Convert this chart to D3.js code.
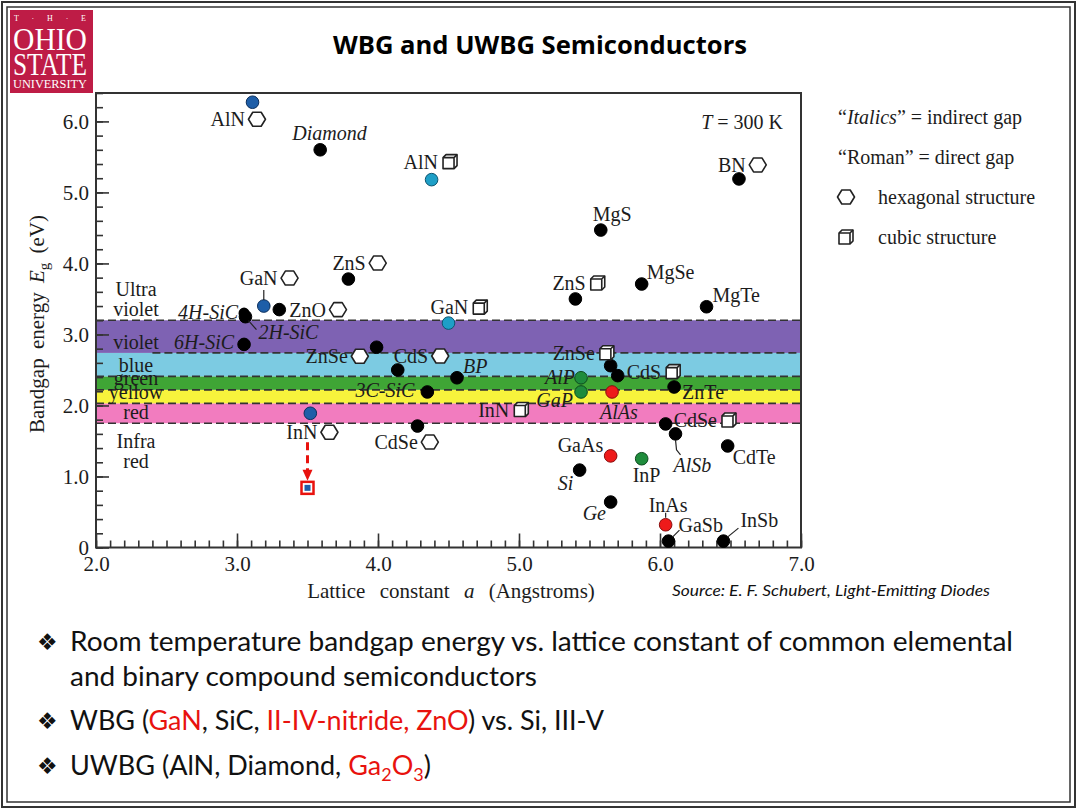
<!DOCTYPE html>
<html>
<head>
<meta charset="utf-8">
<script src="https://d3js.org/d3.v7.min.js"></script>
<style>
body{margin:0;background:#fff;}
</style>
</head>
<body>
<script>
// ---- data ----
const materials = ['AlN','Diamond','AlN','BN','MgS','ZnS','GaN','ZnO','4H-SiC','2H-SiC','6H-SiC','GaN','ZnS','MgSe','MgTe',
                   'ZnSe','CdS','BP','3C-SiC','InN','CdSe','ZnSe','CdS','AlP','GaP','AlAs','ZnTe','InN','CdSe','AlSb',
                   'CdTe','GaAs','InP','Si','Ge','InAs','GaSb','InSb'];
const latticeA = [3.11,3.59,4.38,6.56,5.58,3.79,3.19,3.30,3.05,3.06,3.05,4.50,5.40,5.87,6.33,
                  3.99,4.14,4.56,4.35,3.52,4.28,5.65,5.70,5.44,5.44,5.66,6.10,4.98,6.04,6.11,
                  6.48,5.65,5.87,5.43,5.65,6.04,6.06,6.45];
const bandgapEV = [6.27,5.60,5.18,5.19,4.47,3.78,3.40,3.35,3.30,3.25,2.86,3.16,3.50,3.71,3.39,
                   2.82,2.50,2.39,2.19,1.89,1.71,2.56,2.42,2.39,2.19,2.19,2.26,1.90,1.74,1.60,
                   1.43,1.29,1.25,1.09,0.64,0.32,0.09,0.09];
const gapKind = ['d','i','d','d','d','d','d','d','i','i','i','d','d','d','d',
                 'd','d','i','i','d','d','d','d','i','i','i','d','d','d','i',
                 'd','d','d','i','i','d','d','d'];
const crystal = ['hex','','cub','hex','','hex','hex','hex','','','','cub','cub','','',
                 'hex','hex','','','hex','hex','cub','cub','','','','','cub','cub','',
                 '','','','','','','',''];
const dotGroup = ['nitride','k','nitrideCub','k','k','k','nitride','k','ring','k','k','nitrideCub','k','k','k',
                  'k','k','k','k','nitride','k','k','k','phos','phos','ars','k','none','k','k',
                  'k','ars','phos','k','k','ars','k','k'];
const inNRevisedA = 3.50, inNRevisedEV = 0.84;

const bandEdges = [1.75, 2.03, 2.22, 2.41, 2.74, 3.20];
const bandNames = ['red','yellow','green','blue','violet'];
const xTicks = [2,3,4,5,6,7];
const yTicks = [0,1,2,3,4,5,6];
const sideLabels = [['Ultra',3.62],['violet',3.34],['violet',2.88],['blue',2.55],['green',2.37],['yellow',2.18],['red',1.89],['Infra',1.48],['red',1.20]];

// ---- layout / style ----
const labelLayout = [
  [-42,24],[-28,-10],[-28,-11],[-21,-7],[-8,-9],[-16,-9],[-24,-21,'start',[[0,-6],[0,-16]]],[10,7],[-6,6,'end'],[13,22,'start',[[3,4],[11,13]]],
  [-10,5,'end'],[-18,-9],[-23,-9],[5,-5],[6,-5],[-71,16],[-4,-7],[6,-5],[-13,5,'end'],[-24,26],
  [-43,23],[-58,-6],[9,3],[-6,6,'end'],[-8,15,'end'],[-12,27],[8,12],[-38,4],[8,3],[-2,38,'start',[[0,6],[1,16],[5,21]]],
  [5,18],[-53,-4],[-9,23],[-22,20],[-28,18],[-17,-13,'start',[[0,-7],[0,-12]]],[10,-9,'start',[[4,-4],[11,-11]]],[17,-14,'start',[[4,-4],[15,-13]]]
];
const bandColors = {red:'#f27cbf', yellow:'#f8f33c', green:'#3fa535', blue:'#7ccbe2', violet:'#7e62b3'};
const dotColors = {k:['#000','#000'], nitride:['#1e5ea8','#0c2f5c'], nitrideCub:['#1e9fc7','#0d5570'],
                   phos:['#1f8c3c','#0d4a1e'], ars:['#ee1a1a','#8a0c0c'], ring:['#000','#fff']};
const serif = 'Liberation Serif';
const ink = '#1c1c1c';
const red = '#e8120e';

const svg = d3.select('body')
              .append('svg')
              .attr('width',1080)
              .attr('height',810)
              .style('font-family',serif);

// slide border
svg.append('rect').attr('x',2).attr('y',2).attr('width',1073).attr('height',805)
   .attr('fill','none').attr('stroke','#333').attr('stroke-width',2);
svg.append('rect').attr('x',7).attr('y',7).attr('width',1063).attr('height',795)
   .attr('fill','none').attr('stroke','#333').attr('stroke-width',1.5);

// logo
const logo = svg.append('g').attr('fill','#fff');
logo.append('rect').attr('x',10).attr('y',10).attr('width',83).attr('height',83).attr('fill','#be1c46');
logo.append('text').attr('x',14).attr('y',21).attr('textLength',72).attr('lengthAdjust','spacing')
    .style('font-size','8px').text('T · H · E');
logo.append('text').attr('x',13).attr('y',50).attr('textLength',74).attr('lengthAdjust','spacingAndGlyphs')
    .style('font-size','32px').text('OHIO');
logo.append('text').attr('x',13).attr('y',75).attr('textLength',74).attr('lengthAdjust','spacingAndGlyphs')
    .style('font-size','31px').text('STATE');
logo.append('text').attr('x',13).attr('y',88).attr('textLength',74).attr('lengthAdjust','spacingAndGlyphs')
    .style('font-size','12px').text('UNIVERSITY');

// title
svg.append('text').attr('x',540).attr('y',54).attr('text-anchor','middle')
   .attr('textLength',414).attr('lengthAdjust','spacingAndGlyphs')
   .style('font-family','Open Sans').style('font-weight',700).style('font-size','25px')
   .text('WBG and UWBG Semiconductors');

// scales
const x = d3.scaleLinear().domain([2,7]).range([96,801]);
const y = d3.scaleLinear().domain([0,6.4]).range([547.5,93]);

// colour bands
const bands = svg.append('g');
bands.selectAll('rect')
     .data(bandNames)
     .join('rect')
     .attr('x',x(2)).attr('width',x(7)-x(2))
     .attr('y',(d,i) => y(bandEdges[i+1]))
     .attr('height',(d,i) => y(bandEdges[i]) - y(bandEdges[i+1]))
     .attr('fill',d => bandColors[d]);
bands.selectAll('line')
     .data(bandEdges)
     .join('line')
     .attr('x1',(d,i) => i===4 ? x(2.4) : x(2)).attr('x2',x(7))
     .attr('y1',d => y(d)).attr('y2',d => y(d))
     .attr('stroke','#333').attr('stroke-width',1.6).attr('stroke-dasharray','8,4');

// side labels for the spectrum
svg.append('g').selectAll('text')
   .data(sideLabels)
   .join('text')
   .attr('x',136).attr('y',d => y(d[1]) + 6)
   .attr('text-anchor','middle').style('font-size','20px').attr('fill',ink)
   .text(d => d[0]);

// axes
const fmt = d => d === 0 ? '0' : d.toFixed(1);
const xMinor = svg.append('g').attr('transform',`translate(0,${y(0)})`)
   .call(d3.axisBottom(x).tickValues(d3.range(20,71).map(v => v/10)).tickSize(-7).tickFormat(''));
const xMajor = svg.append('g').attr('transform',`translate(0,${y(0)})`)
   .call(d3.axisBottom(x).tickValues(xTicks).tickSize(-14).tickPadding(9).tickFormat(fmt));
const yMinor = svg.append('g').attr('transform',`translate(${x(2)},0)`)
   .call(d3.axisLeft(y).tickValues(d3.range(0,33).map(v => v/5)).tickSize(-7).tickFormat(''));
const yMajor = svg.append('g').attr('transform',`translate(${x(2)},0)`)
   .call(d3.axisLeft(y).tickValues(yTicks).tickSize(-13).tickPadding(7).tickFormat(fmt));
[xMinor,xMajor,yMinor,yMajor].forEach(g => {
  g.select('.domain').remove();
  g.selectAll('line').attr('stroke','#333').attr('stroke-width',1.6);
  g.selectAll('text').style('font-family',serif).style('font-size','21px').attr('fill',ink);
});

// frame
svg.append('rect').attr('x',x(2)).attr('y',y(6.4)).attr('width',x(7)-x(2)).attr('height',y(0)-y(6.4))
   .attr('fill','none').attr('stroke','#333').attr('stroke-width',2);

// axis titles
svg.append('text').attr('x',451).attr('y',598).attr('text-anchor','middle')
   .style('font-size','21px').style('word-spacing','9px').attr('fill',ink)
   .html('Lattice constant <tspan font-style="italic">a</tspan> (Angstroms)');
svg.append('text').attr('transform','translate(44,324) rotate(-90)').attr('text-anchor','middle')
   .style('font-size','21px').style('word-spacing','4px').attr('fill',ink)
   .html('Bandgap energy <tspan font-style="italic">E</tspan><tspan dy="5" font-size="15px">g</tspan><tspan dy="-5"> (eV)</tspan>');

svg.append('text').attr('x',783).attr('y',129).attr('text-anchor','end')
   .style('font-size','20px').attr('fill',ink)
   .html('<tspan font-style="italic">T</tspan> = 300 K');

// symbols
const hexPath = 'M-8.5,0L-4.2,-7L4.2,-7L8.5,0L4.2,7L-4.2,7Z';
function drawSymbol(g, kind, cx, cy) {
  const s = g.append('g').attr('transform',`translate(${cx},${cy})`)
             .attr('fill','#fff').attr('stroke','#222').attr('stroke-width',1.6).attr('stroke-linejoin','round');
  if (kind === 'hex') {
    s.append('path').attr('d',hexPath);
  } else {
    s.append('path').attr('d','M-7,-4L-4,-7L7,-7L7,4L4,7L-7,7Z');
    s.append('path').attr('d','M-7,-4H4V7M4,-4L7,-7').attr('fill','none');
  }
}

// points
const idx = d3.range(materials.length);
const pts = svg.append('g');
pts.selectAll('circle')
   .data(idx.filter(i => dotGroup[i] !== 'none'))
   .join('circle')
   .attr('cx',i => x(latticeA[i])).attr('cy',i => y(bandgapEV[i]))
   .attr('r',6.3)
   .attr('fill',i => dotColors[dotGroup[i]][0])
   .attr('stroke',i => dotColors[dotGroup[i]][1])
   .attr('stroke-width',i => dotGroup[i] === 'ring' ? 1.5 : 1);

// labels
const labels = svg.append('g');
idx.forEach(i => {
  const [dx, dy, anchor = 'start', leader] = labelLayout[i];
  const px = x(latticeA[i]), py = y(bandgapEV[i]);
  if (leader) {
    labels.append('path')
          .attr('d',d3.line()(leader.map(p => [px + p[0], py + p[1]])))
          .attr('fill','none').attr('stroke','#222').attr('stroke-width',1.2);
  }
  const t = labels.append('text')
                  .attr('x',px + dx).attr('y',py + dy)
                  .attr('text-anchor',anchor)
                  .style('font-size','20px')
                  .style('font-style',gapKind[i] === 'i' ? 'italic' : 'normal')
                  .attr('fill',ink)
                  .text(materials[i]);
  if (crystal[i]) {
    const w = t.node().getComputedTextLength();
    drawSymbol(labels, crystal[i], px + dx + w + 12, py + dy - 7);
  }
});

// revised InN gap
const ax = x(inNRevisedA), ay0 = y(bandgapEV[19]) + 29, ay1 = y(inNRevisedEV) - 7;
svg.append('line').attr('x1',ax).attr('x2',ax).attr('y1',ay0).attr('y2',ay1 - 9)
   .attr('stroke',red).attr('stroke-width',3).attr('stroke-dasharray','8,5');
svg.append('path').attr('d',`M${ax-5},${ay1-11}L${ax+5},${ay1-11}L${ax},${ay1}Z`).attr('fill',red);
svg.append('rect').attr('x',ax-6).attr('y',y(inNRevisedEV)-6).attr('width',12).attr('height',12)
   .attr('fill','#fff').attr('stroke',red).attr('stroke-width',2.5);
svg.append('rect').attr('x',ax-3).attr('y',y(inNRevisedEV)-3).attr('width',6).attr('height',6)
   .attr('fill','#1e5ea8');

// legend
const lg = svg.append('g').style('font-size','20px').attr('fill',ink);
lg.append('text').attr('x',838).attr('y',124)
  .html('\u201c<tspan font-style="italic">Italics</tspan>\u201d = indirect gap');
lg.append('text').attr('x',838).attr('y',164).text('\u201cRoman\u201d = direct gap');
drawSymbol(lg, 'hex', 846, 197);
lg.append('text').attr('x',878).attr('y',204).text('hexagonal structure');
drawSymbol(lg, 'cub', 846, 237);
lg.append('text').attr('x',878).attr('y',244).text('cubic structure');

// source
svg.append('text').attr('x',672).attr('y',596).attr('textLength',318).attr('lengthAdjust','spacingAndGlyphs')
   .style('font-family','Lato').style('font-style','italic').style('font-size','15px').attr('fill','#111')
   .text('Source: E. F. Schubert, Light-Emitting Diodes');

// bullets
const bulletRows = [
  {y:651, w:943, html:'Room temperature bandgap energy vs. lattice constant of common elemental', b:true},
  {y:686, w:467, html:'and binary compound semiconductors', b:false},
  {y:730, w:534, html:`WBG (<tspan fill="${red}">GaN</tspan>, SiC, <tspan fill="${red}">II-IV-nitride, ZnO</tspan>) vs. Si, III-V`, b:true},
  {y:775, w:361, html:`UWBG (AlN, Diamond, <tspan fill="${red}">Ga<tspan dy="6" font-size="18px">2</tspan><tspan dy="-6">O</tspan><tspan dy="6" font-size="18px">3</tspan></tspan><tspan dy="-6">)</tspan>`, b:true}
];
const bl = svg.append('g').style('font-family','Lato').style('font-size','27px').attr('fill','#111');
bulletRows.forEach(r => {
  bl.append('text').attr('x',70).attr('y',r.y).attr('textLength',r.w).attr('lengthAdjust','spacingAndGlyphs').html(r.html);
  if (r.b) bl.append('text').attr('x',37).attr('y',r.y - 1).style('font-family','DejaVu Sans').style('font-size','23px').text('\u2756');
});
</script>
</body>
</html>
